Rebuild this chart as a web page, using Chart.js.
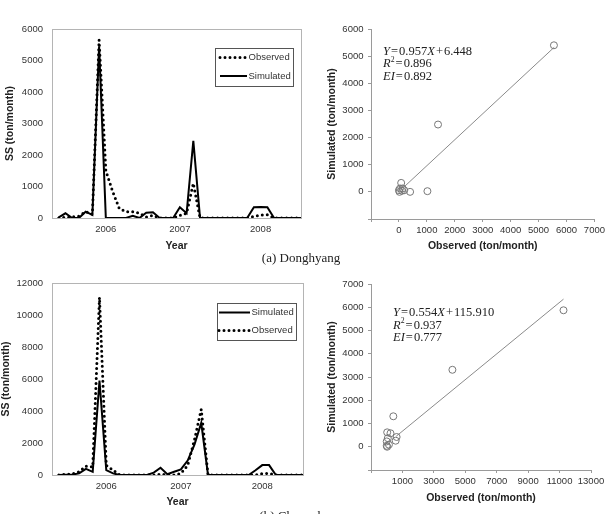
<!DOCTYPE html>
<html>
<head>
<meta charset="utf-8">
<title>SS simulated vs observed</title>
<script src="https://cdn.jsdelivr.net/npm/chart.js"></script>
<style>
  body { margin: 0; background: #fff; width: 608px; height: 514px; overflow: hidden; position: relative; }
  .panel { position: absolute; }
  .cap { position: absolute; font-family: 'Liberation Serif', serif; font-size: 13px; color: #222; white-space: nowrap; transform: translate(-50%, -50%); }
</style>
</head>
<body>
<div class="panel" style="left:0;top:0"><canvas id="tsA" width="310" height="255"></canvas></div>
<div class="panel" style="left:310px;top:0"><canvas id="scA" width="298" height="255"></canvas></div>
<div class="panel" style="left:0;top:255px"><canvas id="tsB" width="310" height="255"></canvas></div>
<div class="panel" style="left:310px;top:255px"><canvas id="scB" width="298" height="255"></canvas></div>
<div class="cap" style="left:301px;top:258px">(a) Donghyang</div>
<div class="cap" style="left:301px;top:516px">(b) Cheoncheon</div>

<script>
// monthly axis, first slot left empty
const monthLabels = ['', '', '', '', '', '', '', '', '2006', '', '', '', '', '', '', '', '', '', '', '2007',
                     '', '', '', '', '', '', '', '', '', '', '', '2008', '', '', '', '', '', ''];

// (a) Donghyang
const obsA = [null, 0, 20, 30, 60, 200, 120, 5650, 1500, 850, 300, 200, 200, 150, 30, 80, 0, 0, 0, 80,
              150, 1100, 0, 0, 0, 0, 0, 0, 0, 0, 50, 90, 100, 0, 0, 0, 0, 0];
const simA = [null, 20, 150, 0, 0, 200, 100, 5450, 0, 0, 0, 0, 70, 0, 170, 180, 0, 0, 0, 340,
              150, 2450, 0, 0, 0, 0, 0, 0, 0, 0, 340, 350, 340, 0, 0, 0, 0, 0];
const scatObsA = [5550, 1400, 1020, 400, 80, 40, 130, 0, 110, 190, 20];
const scatSimA = [5400, 2480, 25, 0, 330, 125, 125, 60, 40, 60, 0];
const fitA = { slope: 0.957, icpt: 6.448, from: 190, to: 5560 };

// (b) Cheoncheon
const obsB = [null, 0, 50, 60, 200, 550, 500, 11100, 600, 300, 0, 0, 0, 0, 0, 0, 50, 0, 0, 100,
              600, 2200, 4100, 0, 0, 0, 0, 0, 0, 0, 0, 80, 100, 0, 0, 0, 0, 0];
const simB = [null, 0, 20, 30, 100, 380, 200, 5900, 300, 100, 0, 0, 0, 0, 0, 150, 450, 50, 200, 350,
              900, 1900, 3250, 0, 0, 0, 0, 0, 0, 0, 300, 620, 620, 0, 0, 0, 0, 0];
const scatObsB = [11250, 4180, 420, 30, 240, 630, 570, 70, 0, 140, 0, 30];
const scatSimB = [5870, 3310, 1310, 620, 580, 420, 260, 370, 230, 90, 40, 0];
const fitB = { slope: 0.554, icpt: 115.910, from: 600, to: 11250 };

const tickFont = { family: 'Liberation Sans', size: 9.5 };
const titleFont = { family: 'Liberation Sans', size: 10.5, weight: 'bold' };

// grey frame round the plot area of the time series
const frame = {
    id: 'frame',
    afterDraw(chart) {
        const a = chart.chartArea, ctx = chart.ctx;
        ctx.save();
        ctx.strokeStyle = '#b4b4b4';
        ctx.lineWidth = 1;
        ctx.strokeRect(Math.round(a.left) + 0.5, Math.round(a.top) + 0.5, Math.round(a.right - a.left), Math.round(a.bottom - a.top));
        ctx.restore();
    }
};

// Excel style legend with a box
const boxLegend = {
    id: 'boxLegend',
    afterDraw(chart, args, o) {
        const a = chart.chartArea, ctx = chart.ctx;
        const x = Math.round(a.right - o.right - o.width), y = Math.round(a.top + o.top);
        ctx.save();
        ctx.strokeStyle = '#555';
        ctx.lineWidth = 1;
        ctx.strokeRect(x + 0.5, y + 0.5, o.width, o.height);
        o.order.forEach((i, k) => {
            const ds = chart.data.datasets[i];
            const cy = y + o.rowTop + k * o.rowGap;
            ctx.beginPath();
            ctx.strokeStyle = '#000';
            ctx.lineWidth = ds.borderWidth;
            ctx.lineCap = ds.borderCapStyle || 'butt';
            ctx.setLineDash(ds.borderDash || []);
            ctx.moveTo(x + o.lineFrom, cy);
            ctx.lineTo(x + o.lineTo, cy);
            ctx.stroke();
            ctx.setLineDash([]);
            ctx.fillStyle = '#333';
            ctx.font = '9.5px "Liberation Sans"';
            ctx.textBaseline = 'middle';
            ctx.fillText(ds.label, x + o.lineTo + 1.5, cy);
        });
        ctx.restore();
    }
};

function drawParts(ctx, x, y, parts, size) {
    parts.forEach(p => {
        const fs = p.sup ? size * 0.62 : size;
        ctx.font = (p.it ? 'italic ' : '') + fs + 'px "Liberation Serif"';
        ctx.fillText(p.t, x, p.sup ? y - size * 0.33 : y);
        x += ctx.measureText(p.t).width;
    });
}

const eqText = {
    id: 'eqText',
    afterDraw(chart, args, o) {
        const a = chart.chartArea, ctx = chart.ctx;
        ctx.save();
        ctx.fillStyle = '#222';
        ctx.textBaseline = 'middle';
        o.lines.forEach((parts, k) => drawParts(ctx, a.left + o.dx, a.top + o.dy + k * o.gap, parts, o.size));
        ctx.restore();
    }
};

const plain = v => String(v);
const hs = '\u200A';

function tsChart(id, labels, series, cfg) {
    return new Chart(document.getElementById(id), {
        type: 'line',
        data: {
            labels: labels,
            datasets: series.map(s => s.dotted ? {
                label: s.label, data: s.data, borderColor: '#000', borderWidth: 3,
                borderDash: [0, 5], borderCapStyle: 'round', pointRadius: 0, tension: 0, order: 0
            } : {
                label: s.label, data: s.data, borderColor: '#000', borderWidth: 2,
                pointRadius: 0, tension: 0, order: 1
            })
        },
        options: {
            responsive: false,
            animation: false,
            devicePixelRatio: 1,
            layout: { padding: { top: cfg.top, right: cfg.right, left: 0, bottom: 0 } },
            plugins: {
                legend: { display: false },
                tooltip: { enabled: false },
                boxLegend: cfg.legend
            },
            scales: {
                x: {
                    grid: { display: false, drawTicks: false },
                    border: { display: false },
                    ticks: { autoSkip: false, maxRotation: 0, padding: cfg.xPad, font: tickFont, color: '#333' },
                    title: { display: true, text: 'Year', font: titleFont, color: '#222', padding: { top: 0, bottom: cfg.xTitlePad } },
                    afterFit: s => { s.height = cfg.xHeight; }
                },
                y: {
                    min: 0, max: cfg.yMax,
                    grid: { display: false, drawTicks: false },
                    border: { display: false },
                    ticks: { stepSize: cfg.yStep, padding: cfg.yPad, font: tickFont, color: '#333', callback: plain },
                    title: { display: true, text: 'SS (ton/month)', font: titleFont, color: '#222', padding: { top: cfg.yTitlePad, bottom: 0 } },
                    afterFit: s => { s.width = 52; }
                }
            }
        },
        plugins: [frame, boxLegend]
    });
}

function scatChart(id, obs, sim, fit, cfg) {
    const pts = obs.map((v, i) => ({ x: v, y: sim[i] }));
    const line = [fit.from, fit.to].map(v => ({ x: v, y: fit.slope * v + fit.icpt }));
    const axisGrid = { drawOnChartArea: false, drawTicks: true, tickLength: 3, color: '#9a9a9a' };
    const hideFirst = v => v === -1000 ? '' : String(v);
    return new Chart(document.getElementById(id), {
        type: 'scatter',
        data: {
            datasets: [{
                data: pts, pointRadius: 3.5, pointBorderWidth: 1,
                borderColor: '#777', backgroundColor: 'rgba(255,255,255,0)'
            }, {
                type: 'line', data: line, borderColor: '#8a8a8a', borderWidth: 1,
                pointRadius: 0, showLine: true, tension: 0
            }]
        },
        options: {
            responsive: false,
            animation: false,
            devicePixelRatio: 1,
            layout: { padding: { top: cfg.top, right: cfg.right, left: 0, bottom: 0 } },
            plugins: {
                legend: { display: false },
                tooltip: { enabled: false },
                eqText: cfg.eq
            },
            scales: {
                x: {
                    type: 'linear', min: -1000, max: cfg.xMax,
                    grid: axisGrid,
                    border: { color: '#9a9a9a' },
                    ticks: { stepSize: cfg.xStep, padding: cfg.xPad, font: tickFont, color: '#333',
                             autoSkip: false, maxRotation: 0, callback: hideFirst },
                    title: { display: true, text: 'Observed (ton/month)', font: titleFont, color: '#222', padding: { top: 0, bottom: cfg.xTitlePad } },
                    afterFit: s => { s.height = cfg.xHeight; }
                },
                y: {
                    min: -1000, max: cfg.yMax,
                    grid: axisGrid,
                    border: { color: '#9a9a9a' },
                    ticks: { stepSize: 1000, padding: 4.5, font: tickFont, color: '#333', callback: hideFirst },
                    title: { display: true, text: 'Simulated (ton/month)', font: titleFont, color: '#222', padding: { top: 16, bottom: 0 } },
                    afterFit: s => { s.width = 61; }
                }
            }
        },
        plugins: [eqText]
    });
}

tsChart('tsA', monthLabels, [
    { label: 'Observed', data: obsA, dotted: true },
    { label: 'Simulated', data: simA }
], {
    top: 29, right: 9, xHeight: 37, xPad: 6, xTitlePad: 3, yMax: 6000, yStep: 1000, yPad: 9, yTitlePad: 4,
    legend: { width: 78, height: 38, right: 8, top: 19, rowTop: 9.5, rowGap: 18.5, lineFrom: 5, lineTo: 32, order: [0, 1] }
});

tsChart('tsB', monthLabels, [
    { label: 'Observed', data: obsB, dotted: true },
    { label: 'Simulated', data: simB }
], {
    top: 28, right: 7, xHeight: 35, xPad: 5.5, xTitlePad: 2, yMax: 12000, yStep: 2000, yPad: 9, yTitlePad: 0,
    legend: { width: 79, height: 37, right: 7, top: 20, rowTop: 9.5, rowGap: 18, lineFrom: 2, lineTo: 33, order: [1, 0] }
});

scatChart('scA', scatObsA, scatSimA, fitA, {
    top: 29, right: 12, xMax: 7000, xStep: 1000, yMax: 6000, xHeight: 36, xPad: 3, xTitlePad: 3,
    eq: { dx: 12, dy: 23, gap: 12.2, size: 12.5, lines: [
        [{ t: 'Y', it: 1 }, { t: hs + '=' + hs + '0.957' }, { t: 'X', it: 1 }, { t: hs + '+' + hs + '6.448' }],
        [{ t: 'R', it: 1 }, { t: '2', sup: 1 }, { t: hs + '=' + hs + '0.896' }],
        [{ t: 'EI', it: 1 }, { t: hs + '=' + hs + '0.892' }]
    ] }
});

scatChart('scB', scatObsB, scatSimB, fitB, {
    top: 29, right: 17, xMax: 13000, xStep: 2000, yMax: 7000, xHeight: 40, xPad: 3, xTitlePad: 6,
    eq: { dx: 22, dy: 29, gap: 12.5, size: 12.5, lines: [
        [{ t: 'Y', it: 1 }, { t: hs + '=' + hs + '0.554' }, { t: 'X', it: 1 }, { t: hs + '+' + hs + '115.910' }],
        [{ t: 'R', it: 1 }, { t: '2', sup: 1 }, { t: hs + '=' + hs + '0.937' }],
        [{ t: 'EI', it: 1 }, { t: hs + '=' + hs + '0.777' }]
    ] }
});
</script>
</body>
</html>
